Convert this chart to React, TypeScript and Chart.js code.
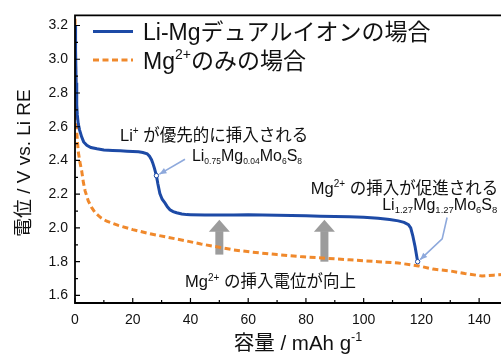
import React, { useEffect, useRef } from 'react';
import { Chart, registerables } from 'chart.js';

Chart.register(...registerables);

// ---- data ----
const dualX = [0, 0.2, 0.4, 0.6, 0.8, 1.1, 1.6, 2.3, 3.0, 4.1, 5.5, 7.6, 10, 13, 15.7, 18, 20, 22, 23.5, 25, 25.8, 26.5, 26.9, 27.5, 28.2, 28.7, 29.4, 30.2, 31.2, 32.0, 32.9, 34, 35.2, 37, 38.7, 40, 45, 50, 55, 60, 65, 70, 75, 80, 85, 90, 95, 100, 105, 109, 112, 114, 115.5, 116.3, 117, 117.8, 118.7];
const dualY = [3.2, 3.05, 2.86, 2.73, 2.67, 2.62, 2.58, 2.54, 2.51, 2.49, 2.477, 2.469, 2.462, 2.459, 2.457, 2.455, 2.453, 2.451, 2.447, 2.44, 2.425, 2.405, 2.387, 2.355, 2.31, 2.262, 2.204, 2.17, 2.147, 2.125, 2.108, 2.097, 2.09, 2.083, 2.079, 2.078, 2.076, 2.077, 2.076, 2.078, 2.076, 2.075, 2.073, 2.072, 2.07, 2.068, 2.066, 2.063, 2.058, 2.05, 2.042, 2.033, 2.02, 2.0, 1.955, 1.89, 1.80];

const mgX = [0, 0.2, 0.4, 0.6, 0.9, 1.15, 1.7, 2.3, 2.9, 3.5, 4.6, 5.8, 7, 9, 11, 15, 20, 26, 32, 38, 43.6, 50, 55, 61, 70, 78, 87, 95, 105, 112, 119, 124, 130, 135, 141, 145, 150];
const mgY = [3.24, 2.95, 2.7, 2.57, 2.5, 2.45, 2.39, 2.34, 2.27, 2.22, 2.16, 2.12, 2.09, 2.06, 2.04, 2.015, 1.99, 1.965, 1.945, 1.925, 1.905, 1.885, 1.87, 1.857, 1.842, 1.83, 1.82, 1.811, 1.8, 1.792, 1.775, 1.756, 1.745, 1.73, 1.715, 1.72, 1.726];

const xTicks = [0, 20, 40, 60, 80, 100, 120, 140];
const yTicks = [1.6, 1.8, 2.0, 2.2, 2.4, 2.6, 2.8, 3.0, 3.2];
const xMinor = [10, 30, 50, 70, 90, 110, 130, 150];
const yMinor = [1.7, 1.9, 2.1, 2.3, 2.5, 2.7, 2.9, 3.1];

const markerPoints = [[28.2, 2.31], [118.7, 1.8]];
const upArrows = [[50, 1.842, 2.049], [86.4, 1.8, 2.049]];

const legendLabels = ['Li-Mgデュアルイオンの場合', 'Mg'];

const BLUE = '#1d4aa6';
const ORANGE = '#f0892c';
const LIGHTBLUE = '#8ea9dc';
const GRAY = '#9c9c9c';
const FAM = '"Liberation Sans", "Noto Sans CJK JP", sans-serif';

type Seg = { t: string; s?: 'sup' | 'sub' };

function segFont(size: number, s?: string, sc = 0.6) {
  const sz = s ? Math.round(size * sc * 2) / 2 : size;
  return `${sz}px ${FAM}`;
}

function richWidth(ctx: CanvasRenderingContext2D, segs: Seg[], size: number, sc = 0.6) {
  let w = 0;
  for (const sg of segs) {
    ctx.font = segFont(size, sg.s, sc);
    w += ctx.measureText(sg.t).width;
  }
  return w;
}

function drawRich(ctx: CanvasRenderingContext2D, x: number, y: number, segs: Seg[], size: number, align: 'left' | 'right' = 'left', sc = 0.6) {
  let cx = x;
  if (align === 'right') cx = x - richWidth(ctx, segs, size, sc);
  ctx.textBaseline = 'alphabetic';
  ctx.textAlign = 'left';
  for (const sg of segs) {
    ctx.font = segFont(size, sg.s, sc);
    let dy = 0;
    if (sg.s === 'sup') dy = -size * 0.42;
    if (sg.s === 'sub') dy = size * 0.2;
    ctx.fillText(sg.t, cx, y + dy);
    cx += ctx.measureText(sg.t).width;
  }
}

function arrowHead(ctx: CanvasRenderingContext2D, fx: number, fy: number, tx: number, ty: number, len: number, w: number) {
  const a = Math.atan2(ty - fy, tx - fx);
  const c = Math.cos(a), s = Math.sin(a);
  ctx.beginPath();
  ctx.moveTo(tx, ty);
  ctx.lineTo(tx - len * c + (w / 2) * s, ty - len * s - (w / 2) * c);
  ctx.lineTo(tx - len * c - (w / 2) * s, ty - len * s + (w / 2) * c);
  ctx.closePath();
  ctx.fill();
}

const decorPlugin = {
  id: 'decor',
  beforeDatasetsDraw(chart: any) {
    const ctx: CanvasRenderingContext2D = chart.ctx;
    const xs = chart.scales.x, ys = chart.scales.y;
    ctx.save();
    ctx.fillStyle = GRAY;
    for (const [xv, y0, y1] of upArrows) {
      const px = xs.getPixelForValue(xv);
      const pb = ys.getPixelForValue(y0);
      const pt = ys.getPixelForValue(y1);
      const headH = 12;
      ctx.fillRect(px - 4, pt + headH - 0.5, 8, pb - pt - headH + 0.5);
      ctx.beginPath();
      ctx.moveTo(px, pt);
      ctx.lineTo(px + 10.5, pt + headH);
      ctx.lineTo(px - 10.5, pt + headH);
      ctx.closePath();
      ctx.fill();
    }
    ctx.restore();
  },
  afterDraw(chart: any) {
    const ctx: CanvasRenderingContext2D = chart.ctx;
    const xs = chart.scales.x, ys = chart.scales.y;
    const a = chart.chartArea;
    const X = (v: number) => xs.getPixelForValue(v);
    const Y = (v: number) => ys.getPixelForValue(v);
    ctx.save();

    // frame
    ctx.strokeStyle = '#000';
    ctx.lineWidth = 1.8;
    ctx.beginPath();
    ctx.moveTo(a.right + 20, a.top);
    ctx.lineTo(a.left, a.top);
    ctx.lineTo(a.left, a.bottom);
    ctx.lineTo(a.right + 20, a.bottom);
    ctx.stroke();

    // inward ticks
    ctx.lineWidth = 1.2;
    ctx.beginPath();
    for (const v of xTicks) { const p = X(v); ctx.moveTo(p, a.bottom); ctx.lineTo(p, a.bottom - 5); }
    for (const v of xMinor) { const p = X(v); ctx.moveTo(p, a.bottom); ctx.lineTo(p, a.bottom - 3); }
    for (const v of yTicks) { const p = Y(v); ctx.moveTo(a.left, p); ctx.lineTo(a.left + 5, p); }
    for (const v of yMinor) { const p = Y(v); ctx.moveTo(a.left, p); ctx.lineTo(a.left + 3, p); }
    ctx.stroke();

    // markers
    for (const [mx, my] of markerPoints) {
      ctx.beginPath();
      ctx.arc(X(mx), Y(my), 2.2, 0, Math.PI * 2);
      ctx.fillStyle = '#fff';
      ctx.fill();
      ctx.strokeStyle = BLUE;
      ctx.lineWidth = 1;
      ctx.stroke();
    }

    // annotation arrows
    ctx.strokeStyle = LIGHTBLUE;
    ctx.fillStyle = LIGHTBLUE;
    ctx.lineWidth = 1.6;
    {
      const sx = X(38.1), sy = Y(2.407);
      const ex = X(markerPoints[0][0]) + 3, ey = Y(markerPoints[0][1]) - 1.5;
      ctx.beginPath(); ctx.moveTo(sx, sy); ctx.lineTo(ex, ey); ctx.stroke();
      arrowHead(ctx, sx, sy, ex, ey, 7, 6);
    }
    {
      const p1x = X(128.9), p1y = Y(2.062);
      const p2x = X(127.2), p2y = Y(1.935);
      const ex = X(markerPoints[1][0]) + 2.5, ey = Y(markerPoints[1][1]) - 2;
      ctx.beginPath(); ctx.moveTo(p1x, p1y); ctx.lineTo(p2x, p2y); ctx.lineTo(ex, ey); ctx.stroke();
      arrowHead(ctx, p2x, p2y, ex, ey, 7, 6);
    }

    // annotation texts
    ctx.fillStyle = '#111';
    drawRich(ctx, X(15.6), Y(2.517), [{ t: 'Li' }, { t: '+', s: 'sup' }, { t: ' が優先的に挿入される' }], 16.5);
    drawRich(ctx, X(40.5), Y(2.396), [{ t: 'Li' }, { t: '0.75', s: 'sub' }, { t: 'Mg' }, { t: '0.04', s: 'sub' }, { t: 'Mo' }, { t: '6', s: 'sub' }, { t: 'S' }, { t: '8', s: 'sub' }], 16, 'left', 0.54);
    drawRich(ctx, X(146.6), Y(2.2), [{ t: 'Mg' }, { t: '2+', s: 'sup' }, { t: ' の挿入が促進される' }], 16.5, 'right');
    drawRich(ctx, X(146.3), Y(2.108), [{ t: 'Li' }, { t: '1.27', s: 'sub' }, { t: 'Mg' }, { t: '1.27', s: 'sub' }, { t: 'Mo' }, { t: '6', s: 'sub' }, { t: 'S' }, { t: '8', s: 'sub' }], 16, 'right', 0.58);
    drawRich(ctx, X(38.1), Y(1.647), [{ t: 'Mg' }, { t: '2+', s: 'sup' }, { t: ' の挿入電位が向上' }], 16.5);

    // legend
    const lx0 = a.left + 18, lx1 = a.left + 58;
    ctx.lineWidth = 3;
    ctx.strokeStyle = BLUE;
    ctx.beginPath(); ctx.moveTo(lx0, 31.5); ctx.lineTo(lx1, 31.5); ctx.stroke();
    ctx.strokeStyle = ORANGE;
    ctx.setLineDash([6, 3.5]);
    ctx.beginPath(); ctx.moveTo(lx0, 60); ctx.lineTo(lx1, 60); ctx.stroke();
    ctx.setLineDash([]);
    ctx.fillStyle = '#111';
    drawRich(ctx, a.left + 68, 40, [{ t: legendLabels[0] }], 23);
    drawRich(ctx, a.left + 68, 68.5, [{ t: legendLabels[1] }, { t: '2+', s: 'sup' }, { t: 'のみの場合' }], 23);

    // axis titles
    ctx.fillStyle = '#111';
    const xt: Seg[] = [{ t: '容量 / mAh g' }, { t: '-1', s: 'sup' }];
    const xw = richWidth(ctx, xt, 20.5);
    drawRich(ctx, 298 - xw / 2, 350, xt, 20.5);

    ctx.save();
    ctx.translate(25, (a.top + a.bottom) / 2 + 4);
    ctx.rotate(-Math.PI / 2);
    ctx.font = `19px ${FAM}`;
    ctx.textAlign = 'center';
    ctx.textBaseline = 'middle';
    ctx.fillText('電位 / V vs. Li RE', 0, 0);
    ctx.restore();

    ctx.restore();
  },
};

export default function App() {
  const ref = useRef<HTMLCanvasElement | null>(null);
  useEffect(() => {
    if (!ref.current) return;
    const chart = new Chart(ref.current, {
      type: 'line',
      data: {
        datasets: [
          {
            label: 'Li-Mg',
            data: dualX.map((x, i) => ({ x, y: dualY[i] })),
            borderColor: BLUE,
            borderWidth: 3,
            pointRadius: 0,
            tension: 0,
            fill: false,
          },
          {
            label: 'Mg',
            data: mgX.map((x, i) => ({ x, y: mgY[i] })),
            borderColor: ORANGE,
            borderWidth: 3,
            borderDash: [6, 3.5],
            pointRadius: 0,
            tension: 0,
            fill: false,
          },
        ],
      },
      options: {
        animation: false,
        responsive: false,
        devicePixelRatio: 1,
        layout: { padding: { left: 0, top: 7, right: 12, bottom: 0 } },
        plugins: { legend: { display: false }, tooltip: { enabled: false } },
        scales: {
          x: {
            type: 'linear',
            min: 0,
            max: 150,
            afterBuildTicks: (s: any) => { s.ticks = xTicks.map((v) => ({ value: v })); },
            afterFit: (s: any) => { s.height = 53; },
            grid: { display: false, drawTicks: false },
            border: { display: false },
            ticks: { padding: 9, color: '#111', font: { family: FAM, size: 14 }, callback: (v: any) => String(v), maxRotation: 0 },
          },
          y: {
            type: 'linear',
            min: 1.555,
            max: 3.26,
            afterBuildTicks: (s: any) => { s.ticks = yTicks.map((v) => ({ value: v })); },
            afterFit: (s: any) => { s.width = 75; },
            grid: { display: false, drawTicks: false },
            border: { display: false },
            ticks: { padding: 7, color: '#111', font: { family: FAM, size: 14 }, callback: (v: any) => Number(v).toFixed(1) },
          },
        },
      } as any,
      plugins: [decorPlugin],
    });
    return () => chart.destroy();
  }, []);
  return (
    <div style={{ position: 'fixed', left: 0, top: 0, width: 520, height: 356, background: '#fff' }}>
      <canvas ref={ref} width={520} height={356} style={{ width: 520, height: 356, display: 'block' }} />
    </div>
  );
}
